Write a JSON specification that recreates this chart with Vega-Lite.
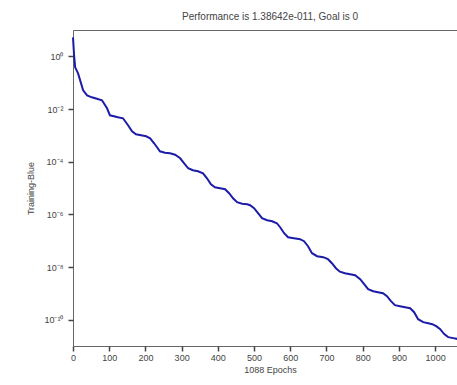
{
  "$schema": "https://vega.github.io/schema/vega-lite/v6.json",
  "autosize": "none",
  "width": 394,
  "height": 316,
  "padding": {"left": 73, "top": 30, "right": 0, "bottom": 39},
  "background": "white",
  "config": {
    "view": {"stroke": "#666", "strokeWidth": 1},
    "font": "Liberation Sans",
    "axis": {"domain": false, "ticks": true, "tickWidth": 1.5, "tickColor": "#444", "labelColor": "#444", "titleColor": "#444", "labelFontSize": 9, "titleFontSize": 9, "titleFontWeight": "normal", "grid": false, "tickSize": 5}
  },
  "title": {"text": "Performance is 1.38642e-011, Goal is 0", "fontSize": 10, "fontWeight": "normal", "color": "#444", "offset": 8, "anchor": "middle"},
  "data": {"values": [
    {"epoch": 0, "perf": 5.26}, {"epoch": 3, "perf": 1.09}, {"epoch": 6, "perf": 0.383}, {"epoch": 14, "perf": 0.226},
    {"epoch": 28, "perf": 0.0513}, {"epoch": 39, "perf": 0.0331}, {"epoch": 52, "perf": 0.0278}, {"epoch": 66, "perf": 0.0244},
    {"epoch": 80, "perf": 0.0214}, {"epoch": 94, "perf": 0.01064}, {"epoch": 102, "perf": 0.00577}, {"epoch": 113, "perf": 0.00528},
    {"epoch": 124, "perf": 0.00484}, {"epoch": 138, "perf": 0.00444}, {"epoch": 152, "perf": 0.00241}, {"epoch": 163, "perf": 0.001425},
    {"epoch": 174, "perf": 0.001096}, {"epoch": 188, "perf": 0.001005}, {"epoch": 202, "perf": 0.000921}, {"epoch": 213, "perf": 0.000773},
    {"epoch": 224, "perf": 0.000499}, {"epoch": 232, "perf": 0.000352}, {"epoch": 240, "perf": 0.000248}, {"epoch": 254, "perf": 0.000218},
    {"epoch": 268, "perf": 0.000208}, {"epoch": 282, "perf": 0.000183}, {"epoch": 296, "perf": 0.0001346}, {"epoch": 307, "perf": 8.69e-5},
    {"epoch": 318, "perf": 5.62e-5}, {"epoch": 331, "perf": 4.72e-5}, {"epoch": 345, "perf": 4.32e-5}, {"epoch": 359, "perf": 3.63e-5},
    {"epoch": 370, "perf": 2.34e-5}, {"epoch": 381, "perf": 1.387e-5}, {"epoch": 392, "perf": 1.069e-5}, {"epoch": 406, "perf": 9.79e-6},
    {"epoch": 420, "perf": 8.97e-6}, {"epoch": 431, "perf": 6.32e-6}, {"epoch": 442, "perf": 4.08e-6}, {"epoch": 453, "perf": 2.88e-6},
    {"epoch": 467, "perf": 2.52e-6}, {"epoch": 481, "perf": 2.42e-6}, {"epoch": 489, "perf": 2.21e-6}, {"epoch": 500, "perf": 1.705e-6},
    {"epoch": 511, "perf": 1.102e-6}, {"epoch": 522, "perf": 7.12e-7}, {"epoch": 536, "perf": 5.97e-7}, {"epoch": 550, "perf": 5.47e-7},
    {"epoch": 563, "perf": 4.59e-7}, {"epoch": 572, "perf": 3.24e-7}, {"epoch": 583, "perf": 1.918e-7}, {"epoch": 594, "perf": 1.352e-7},
    {"epoch": 610, "perf": 1.239e-7}, {"epoch": 627, "perf": 1.135e-7}, {"epoch": 638, "perf": 9.53e-8}, {"epoch": 649, "perf": 6.15e-8},
    {"epoch": 660, "perf": 3.34e-8}, {"epoch": 674, "perf": 2.57e-8}, {"epoch": 691, "perf": 2.36e-8}, {"epoch": 704, "perf": 1.977e-8},
    {"epoch": 715, "perf": 1.393e-8}, {"epoch": 726, "perf": 9.0e-9}, {"epoch": 737, "perf": 6.62e-9}, {"epoch": 751, "perf": 5.82e-9},
    {"epoch": 765, "perf": 5.33e-9}, {"epoch": 779, "perf": 4.89e-9}, {"epoch": 793, "perf": 3.44e-9}, {"epoch": 804, "perf": 2.22e-9},
    {"epoch": 815, "perf": 1.436e-9}, {"epoch": 829, "perf": 1.205e-9}, {"epoch": 842, "perf": 1.104e-9}, {"epoch": 856, "perf": 1.013e-9},
    {"epoch": 867, "perf": 7.8e-10}, {"epoch": 878, "perf": 5.04e-10}, {"epoch": 889, "perf": 3.55e-10}, {"epoch": 903, "perf": 3.25e-10},
    {"epoch": 917, "perf": 2.98e-10}, {"epoch": 931, "perf": 2.73e-10}, {"epoch": 942, "perf": 1.926e-10}, {"epoch": 953, "perf": 1.045e-10},
    {"epoch": 967, "perf": 8.04e-11}, {"epoch": 981, "perf": 7.36e-11}, {"epoch": 992, "perf": 6.75e-11}, {"epoch": 1003, "perf": 5.66e-11},
    {"epoch": 1014, "perf": 4.36e-11}, {"epoch": 1025, "perf": 2.82e-11}, {"epoch": 1036, "perf": 2.17e-11}, {"epoch": 1050, "perf": 1.99e-11},
    {"epoch": 1064, "perf": 1.82e-11}, {"epoch": 1074, "perf": 1.667e-11}, {"epoch": 1088, "perf": 1.38642e-11}
  ]},
  "mark": {"type": "line", "color": "#1c1ca8", "strokeWidth": 2},
  "encoding": {
    "x": {"field": "epoch", "type": "quantitative", "scale": {"domain": [0, 1088], "nice": false, "zero": false},
          "axis": {"title": "1088 Epochs", "values": [0,100,200,300,400,500,600,700,800,900,1000], "format": "d", "labelPadding": 2, "titlePadding": 3, "labelFlush": false}},
    "y": {"field": "perf", "type": "quantitative", "scale": {"type": "log", "domain": [1e-11, 10], "nice": false},
          "axis": {"title": "Training-Blue", "values": [1, 0.01, 0.0001, 1e-6, 1e-8, 1e-10], "labelPadding": 5, "titlePadding": 8,
                   "labelExpr": "datum.value > 0.1 ? '10⁰' : datum.value > 0.001 ? '10⁻²' : datum.value > 1e-5 ? '10⁻⁴' : datum.value > 1e-7 ? '10⁻⁶' : datum.value > 1e-9 ? '10⁻⁸' : '10⁻¹⁰'"}}
  }
}
